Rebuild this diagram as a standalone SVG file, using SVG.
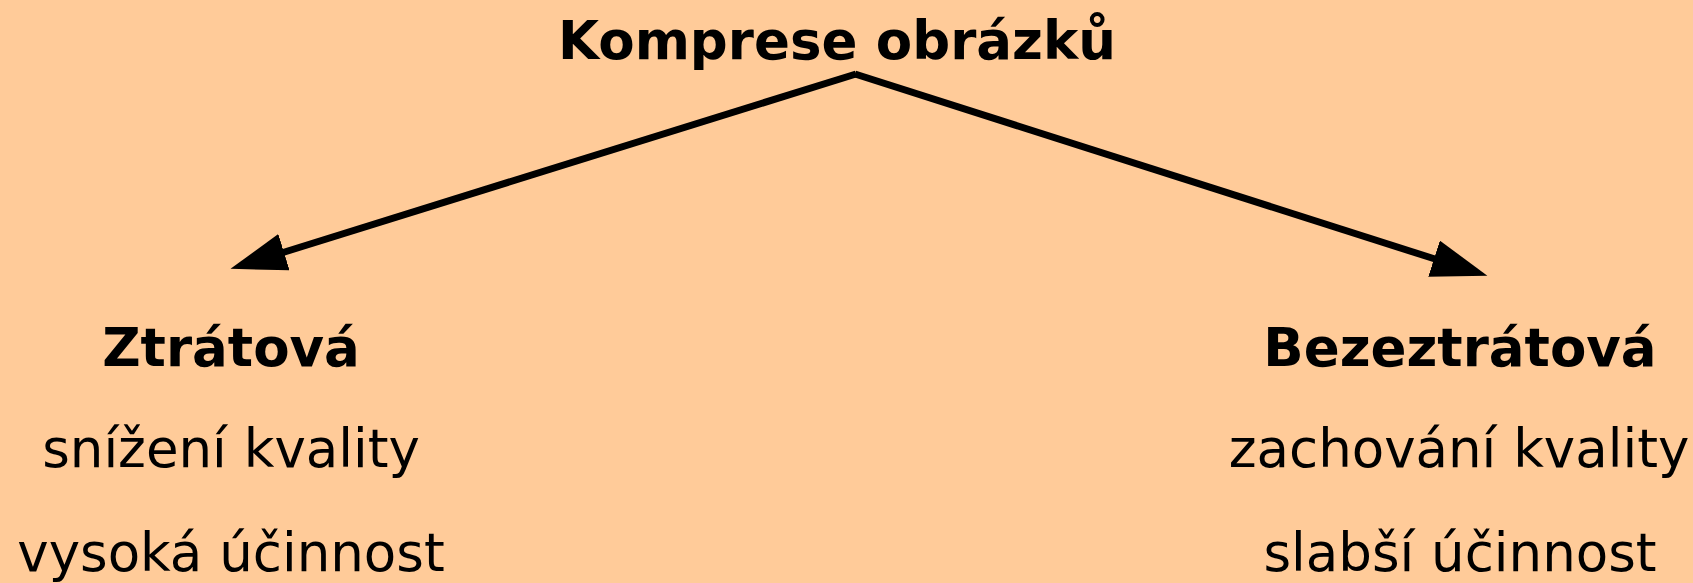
<svg xmlns="http://www.w3.org/2000/svg" width="1693" height="583" viewBox="0 0 1693 583">
  <style>
    .t { font-family: "DejaVu Sans", Verdana, sans-serif; font-size: 53px; fill: #000; text-anchor: middle; }
    .b { font-weight: bold; }
    .conn { stroke: #000; stroke-width: 7; fill: none; }
  </style>
  <defs>
    <marker id="ah" markerUnits="userSpaceOnUse" markerWidth="60" markerHeight="40" refX="1" refY="19" orient="auto">
      <path d="M0,0 L56,19 L0,38 Z" fill="#000"/>
    </marker>
  </defs>
  <rect width="1693" height="583" fill="#FFCB99"/>
  <g id="connectors">
    <line class="conn" x1="856" y1="74" x2="283" y2="252.5" marker-end="url(#ah)"/>
    <line class="conn" x1="855" y1="74" x2="1435" y2="259" marker-end="url(#ah)"/>
  </g>
  <g id="root">
    <text class="t b" x="837" y="59">Komprese obrázků</text>
  </g>
  <g id="lossy">
    <text class="t b" x="231" y="366">Ztrátová</text>
    <text class="t" x="231" y="467">snížení kvality</text>
    <text class="t" x="231" y="571">vysoká účinnost</text>
  </g>
  <g id="lossless">
    <text class="t b" x="1460" y="366">Bezeztrátová</text>
    <text class="t" x="1459" y="467">zachování kvality</text>
    <text class="t" x="1460" y="571">slabší účinnost</text>
  </g>
</svg>
